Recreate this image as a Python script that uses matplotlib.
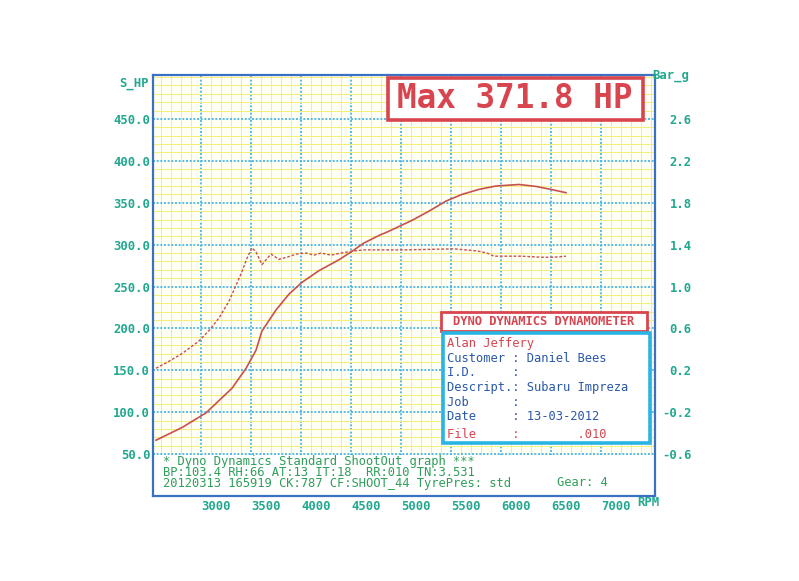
import matplotlib
matplotlib.use("Agg")
import matplotlib.pyplot as plt
from matplotlib.patches import Rectangle
from matplotlib.ticker import MultipleLocator

W, H = 799, 581

# power curve (rpm, HP)
rpm_power = [2550, 2810, 3050, 3310, 3450, 3550, 3610, 3750, 3880, 4010, 4180,
             4380, 4510, 4630, 4780, 4860, 5110, 5280, 5450, 5610, 5780, 5950,
             6180, 6350, 6510, 6650]
power_hp = [66.6, 81.7, 99.2, 128.6, 152.3, 174.0, 197.0, 222.0, 241.0, 255.0,
            269.0, 282.0, 292.0, 302.0, 311.0, 315.0, 329.0, 340.0, 352.0, 360.0,
            366.0, 370.0, 371.8, 369.5, 365.7, 362.0]

# boost curve (rpm, bar)
rpm_boost = [2550, 2650, 2810, 2980, 3080, 3180, 3280, 3400, 3460, 3510, 3550,
             3610, 3700, 3780, 3860, 3950, 4050, 4130, 4200, 4300, 4400, 4530,
             4630, 5030, 5530, 5760, 5860, 5930, 6200, 6400, 6530, 6650]
boost_bar = [0.22, 0.27, 0.36, 0.48, 0.58, 0.70, 0.86, 1.12, 1.27, 1.37, 1.33,
             1.21, 1.31, 1.26, 1.28, 1.31, 1.32, 1.30, 1.32, 1.30, 1.32, 1.34,
             1.35, 1.35, 1.36, 1.34, 1.32, 1.29, 1.29, 1.28, 1.28, 1.29]

hp_ticks = [50, 100, 150, 200, 250, 300, 350, 400, 450]
bar_ticks = [-0.6, -0.2, 0.2, 0.6, 1.0, 1.4, 1.8, 2.2, 2.6]
rpm_ticks = [3000, 3500, 4000, 4500, 5000, 5500, 6000, 6500, 7000]

max_label = "Max 371.8 HP"
box_title = "DYNO DYNAMICS DYNAMOMETER"
info_lines = ["Alan Jeffery",
              "Customer : Daniel Bees",
              "I.D.     :",
              "Descript.: Subaru Impreza",
              "Job      :",
              "Date     : 13-03-2012",
              "File     :        .010"]
footer_lines = ["* Dyno Dynamics Standard ShootOut graph ***",
                "BP:103.4 RH:66 AT:13 IT:18  RR:010 TN:3.531",
                "20120313 165919 CK:787 CF:SHOOT_44 TyrePres: std"]

TEAL = '#22a88f'
GREEN = '#2f9f5a'
RED = '#d8454f'
BLUE_TXT = '#2b58a8'
CYAN = '#2ab4e4'
FRAME = '#3b70c2'
MONO = 'DejaVu Sans Mono'


def fx(x):
    return x / W


def fy(y):
    return 1 - y / H


fig = plt.figure(figsize=(W / 100, H / 100), dpi=100)
fig.patch.set_facecolor('white')
ax = fig.add_axes([fx(153), fy(496), 502 / W, 421 / H])
ax.set_facecolor('#fffff4')

ax.set_xlim(2520, 7540)
ax.set_ylim(0, 502.5)
ax.xaxis.set_minor_locator(MultipleLocator(100))
ax.yaxis.set_minor_locator(MultipleLocator(10))
ax.set_xticks(rpm_ticks)
ax.set_yticks(hp_ticks)
ax.set_yticklabels([f"{v:.1f}" for v in hp_ticks])
ax.set_xticklabels([str(v) for v in rpm_ticks])

ax.grid(which='minor', color='#f4ee7a', lw=0.7, ls='-')
ax.grid(which='major', color='#3db0e6', lw=1.2, ls=(0, (1.2, 1.0)))
ax.set_axisbelow(True)

ax.tick_params(which='both', length=0)
ax.tick_params(axis='y', pad=2, labelsize=8.8, labelcolor=TEAL)
ax.tick_params(axis='x', pad=3, labelsize=8.8, labelcolor=TEAL)
for lab in ax.get_yticklabels() + ax.get_xticklabels():
    lab.set_fontfamily(MONO)
    lab.set_fontweight('bold')
for lab in ax.get_xticklabels():
    lab.set_horizontalalignment('left')

for sp in ax.spines.values():
    sp.set_color(FRAME)
    sp.set_linewidth(1.6)

# white footer strip inside the plot
ax.add_patch(Rectangle((2520, 0), 5020, 48.8, facecolor='white',
                       edgecolor='none', zorder=1.5))

ax.plot(rpm_power, power_hp, color='#c9514c', lw=1.2, zorder=3)

ax2 = ax.twinx()
ax2.set_ylim(-1.0, 3.02)
ax2.set_yticks(bar_ticks)
ax2.set_yticklabels([f"{v:.1f}" for v in bar_ticks])
ax2.tick_params(length=0, pad=26.5, labelsize=8.8, labelcolor=TEAL)
for lab in ax2.get_yticklabels():
    lab.set_fontfamily(MONO)
    lab.set_fontweight('bold')
    lab.set_horizontalalignment('right')
for sp in ax2.spines.values():
    sp.set_visible(False)
ax2.plot(rpm_boost, boost_bar, color='#c9514c', lw=1.0,
         ls=(0, (2.0, 1.3)), zorder=3)

# axis titles
fig.text(fx(119), fy(84), "S_HP", color=TEAL, fontsize=8.8, family=MONO,
         weight='bold', va='center')
fig.text(fx(652), fy(76), "Bar_g", color=TEAL, fontsize=8.8, family=MONO,
         weight='bold', va='center')
fig.text(fx(637), fy(502), "RPM", color=TEAL, fontsize=8.8, family=MONO,
         weight='bold', va='center')

# max box
fig.add_artist(Rectangle((fx(388), fy(120)), (643 - 388) / W, (120 - 78) / H,
                         transform=fig.transFigure, facecolor='white',
                         edgecolor=RED, lw=2.6, zorder=5))
fig.text(fx(515), fy(99), max_label, color=RED, fontsize=23.5, family=MONO,
         weight='bold', ha='center', va='center', zorder=6)

# info box
fig.add_artist(Rectangle((fx(441), fy(331)), (647 - 441) / W, (331 - 312) / H,
                         transform=fig.transFigure, facecolor='white',
                         edgecolor=RED, lw=2.0, zorder=5))
fig.text(fx(544), fy(321.5), box_title, color=RED, fontsize=8.7, family=MONO,
         weight='bold', ha='center', va='center', zorder=6)
fig.add_artist(Rectangle((fx(443), fy(443)), (650 - 443) / W, (443 - 333) / H,
                         transform=fig.transFigure, facecolor='white',
                         edgecolor=CYAN, lw=2.6, zorder=5))
line_y = [343, 358, 372.5, 387.5, 402.5, 417, 434]
for i, (s, y) in enumerate(zip(info_lines, line_y)):
    col = RED if i in (0, len(info_lines) - 1) else BLUE_TXT
    fig.text(fx(447), fy(y), s, color=col, fontsize=8.7, family=MONO,
             va='center', zorder=6)

# footer text, one block so the lines sit close like the printout
fig.text(fx(163), fy(472.5), "\n".join(footer_lines), color=GREEN,
         fontsize=8.7, family=MONO, va='center', linespacing=0.78, zorder=6)
fig.text(fx(557), fy(482), "Gear: 4", color=GREEN, fontsize=8.7, family=MONO,
         va='center', zorder=6)

fig.savefig('out.png', dpi=100)
